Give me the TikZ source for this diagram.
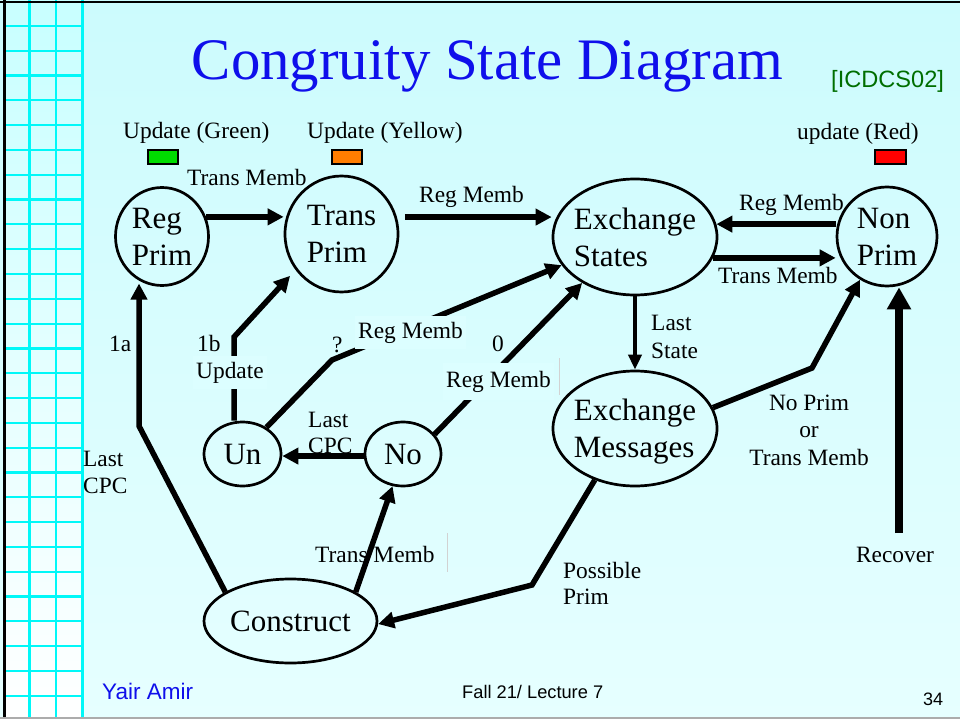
\documentclass[tikz,border=0pt]{standalone}
\usepackage{fontspec}
\setmainfont{Liberation Serif}
\newfontfamily\arialfont{Liberation Sans}
\usetikzlibrary{shapes.geometric,arrows.meta,calc}

\definecolor{bgtop}{RGB}{204,251,253}
\definecolor{bgbot}{RGB}{230,255,255}
\definecolor{gridtop}{RGB}{200,255,255}
\definecolor{gridln}{RGB}{0,248,248}
\definecolor{titleblue}{RGB}{15,15,235}
\definecolor{refgreen}{RGB}{0,110,0}
\definecolor{sqgreen}{RGB}{0,220,0}
\definecolor{sqorange}{RGB}{255,125,0}
\definecolor{sqred}{RGB}{255,0,0}
\definecolor{lblbg}{RGB}{220,254,255}

\begin{document}
\begin{tikzpicture}[x=1pt,y=-1pt,
  stnode/.style={ellipse, draw, line width=2.7pt, inner sep=0pt, align=left,
    font=\fontsize{31}{37}\selectfont},
  lbl/.style={inner sep=0pt, font=\fontsize{23.4}{28}\selectfont},
  lblfill/.style={lbl, fill=lblbg, inner xsep=3pt, inner ysep=6pt},
  link/.style={line width=5.5pt, -{Triangle[length=16pt,width=16pt]}},
  linkthin/.style={line width=4.3pt, -{Triangle[length=15pt,width=13pt]}},
  linkheavy/.style={line width=8.3pt, -{Triangle[length=22pt,width=23pt]}},
  colsq/.style={draw=black, line width=2pt},
  sans/.style={inner sep=0pt, anchor=base west}
]
\useasboundingbox (0,0) rectangle (960,719);

% slide background
\shade[top color=bgtop, bottom color=bgbot] (0,0) rectangle (960,719);

% ruled strip on the left edge
\shade[top color=gridtop, bottom color=white] (5,0) rectangle (84,719);
\foreach \gx in {29.5,56,82.5}
  \draw[gridln, line width=2.2pt] (\gx,0) -- (\gx,719);
\foreach \k in {0,...,27}
  \draw[gridln, line width=2.2pt] (5,{26+24.8*\k}) -- (84,{26+24.8*\k});

% frame lines
\fill[black] (3.3,0) rectangle (6,719);
\fill[black] (0,1) rectangle (960,3.5);
\fill[gray!65] (0,717) rectangle (960,719);

% title and reference
\node[inner sep=0pt, anchor=base, text=titleblue, font=\fontsize{58.8}{60}\selectfont]
  (title) at (487.5,80) {Congruity State Diagram};
\node[sans, text=refgreen, font=\arialfont\fontsize{23.6}{26}\selectfont]
  (ref) at (831,88) {[ICDCS02]};

% colour legend
\node[lbl, anchor=base west] (ugreen) at (123,139) {Update (Green)};
\node[lbl, anchor=base west] (uyellow) at (307,139) {Update (Yellow)};
\node[lbl, anchor=base west] (ured) at (797,140) {update (Red)};
\filldraw[colsq, fill=sqgreen] (148,150) rectangle (178,164);
\filldraw[colsq, fill=sqorange] (332,150) rectangle (362,164);
\filldraw[colsq, fill=sqred] (875,150) rectangle (906,164);

% states
\node[stnode, minimum width=93pt, minimum height=98pt] (RP) at (162,236.5) {Reg\\Prim};
\node[stnode, minimum width=113pt, minimum height=116pt] (TP) at (341.5,234) {Trans\\Prim};
\node[stnode, minimum width=164pt, minimum height=116pt, inner xsep=-6pt] (ES) at (635,237) {Exchange\\States};
\node[stnode, minimum width=100pt, minimum height=99pt] (NP) at (887,236.5) {Non\\Prim};
\node[stnode, minimum width=164pt, minimum height=115pt, inner xsep=-6pt, text depth=0pt] (EM) at (635,428.5) {Exchange\\Messages};
\node[stnode, minimum width=77pt, minimum height=64pt] (UN) at (242.5,454) {Un};
\node[stnode, minimum width=76pt, minimum height=64pt] (NO) at (403,454) {No};
\node[stnode, minimum width=173pt, minimum height=84pt] (CO) at (290.5,621) {Construct};

% bend points and free ends
\coordinate (bnp) at (812,368);
\coordinate (bco) at (532,585);
\coordinate (brp) at (139,426);
\coordinate (bun) at (234,337);
\coordinate (bue) at (332,360);
\coordinate (rec) at (899,533);

% transitions
\draw[link] (RP.24) -- (RP.24 -| TP.west);
\draw[link, shorten <=8pt] (TP.17) -- (TP.17 -| ES.west);
\draw[link] (ES.9 -| NP.west) -- (ES.9);
\draw[link] (ES.-15) -- (ES.-15 -| NP.west);
\draw[linkthin] (ES.south) -- (EM.north);
\draw[link] (EM.15) -- (bnp) -- (NP.238);
\draw[linkheavy] (rec) -- (rec |- NP.south);
\draw[link] (EM.232) -- (bco) -- (CO.-2);
\draw[link] (CO.24) -- (NO.252);
\draw[link] (CO.156) -- (brp) -- (brp |- RP.250);
\draw[link, shorten >=8pt] (bun |- UN.north) -- (bun) -- (TP.218);
\draw[link] (UN.48) -- (bue) -- (ES.201);
\draw[link] (NO.32) -- (ES.221);
\draw[link] (NO.183) -- (NO.183 -| UN.east);

% transition labels
\node[lbl, anchor=base west] (l1) at (187,186) {Trans Memb};
\node[lbl, anchor=base west] (l2) at (419,203) {Reg Memb};
\node[lbl, anchor=base west] (l3) at (739,211) {Reg Memb};
\node[lbl, anchor=base west] (l4) at (718,283) {Trans Memb};
\node[lbl, anchor=base west] (l5a) at (651,330) {Last};
\node[lbl, anchor=base west] (l5b) at (651,358) {State};
\node[lbl, anchor=base] (l6a) at (809,410) {No Prim};
\node[lbl, anchor=base] (l6b) at (809,437) {or};
\node[lbl, anchor=base] (l6c) at (809,465) {Trans Memb};
\node[lbl, anchor=base] (l7) at (895,562) {Recover};
\node[lbl, anchor=base west] (l8a) at (563,578) {Possible};
\node[lbl, anchor=base west] (l8b) at (563,604) {Prim};
\node[lbl, anchor=base west] (l9) at (315,562) {Trans Memb};
\node[lbl, anchor=base west] (l10a) at (308,427) {Last};
\node[lbl, anchor=base west] (l10b) at (308,453) {CPC};
\node[lbl, anchor=base west] (l11) at (332,352) {?};
\node[lblfill, anchor=base west] (l12) at (355,338) {Reg Memb};
\node[lbl, anchor=base west] (l13) at (492,351) {0};
\node[lblfill, inner ysep=8pt, anchor=base west] (l14) at (443,387) {Reg Memb};
\node[lbl, anchor=base west] (l15) at (197,351) {1b};
\node[lblfill, anchor=base west] (l16) at (193,378) {Update};
\node[lbl, anchor=base west] (l17) at (109,351) {1a};
\node[lbl, anchor=base west] (l18a) at (83,466) {Last};
\node[lbl, anchor=base west] (l18b) at (83,493) {CPC};

% text box edges
\draw[gray!35, line width=0.8pt] (559,358) -- (559,395);
\draw[gray!35, line width=0.8pt] (447,533) -- (447,572);

% footer
\node[sans, text=titleblue, font=\arialfont\fontsize{22.5}{25}\selectfont] (author) at (102,699) {Yair Amir};
\node[sans, font=\arialfont\fontsize{18.25}{20}\selectfont] (course) at (462,698) {Fall 21/ Lecture 7};
\node[sans, font=\arialfont\fontsize{18}{20}\selectfont] (page) at (923,705) {34};
\end{tikzpicture}
\end{document}
